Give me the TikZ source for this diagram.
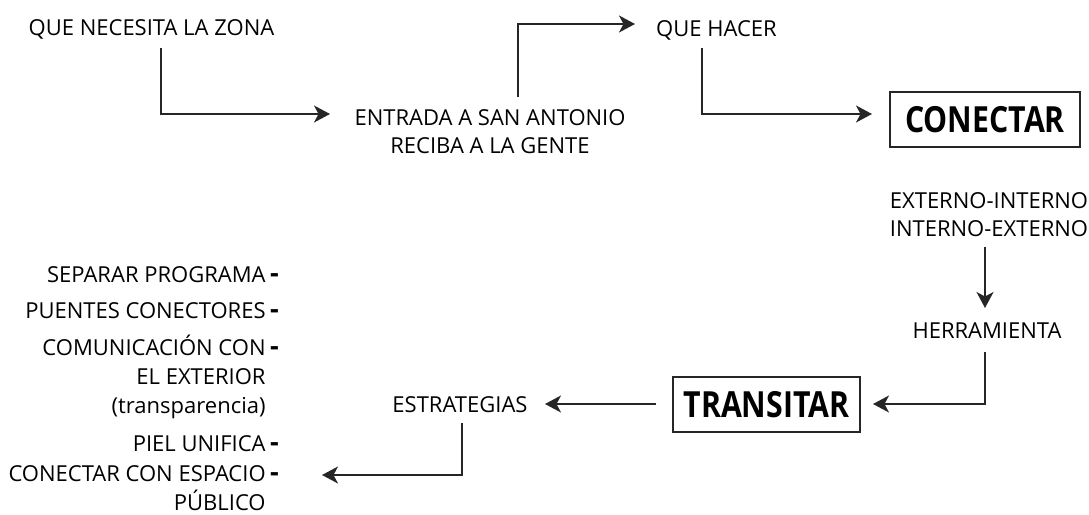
\documentclass[tikz,border=0pt]{standalone}
\usepackage{fontspec}
\setmainfont{Open Sans}
\newfontfamily\boxfont{Open Sans}[FakeStretch=0.84]
\usetikzlibrary{arrows.meta}
\newcommand\dsh{\hspace{4.5pt}{\bfseries\fontsize{27}{27}\selectfont -}}
\newcommand\pdsh{\hphantom{\dsh}}
\begin{document}
\begin{tikzpicture}[x=1pt,y=-1pt,
  lbl/.style={inner sep=0pt, font=\fontsize{22}{28}\selectfont, text=black},
  boxn/.style={draw=black!85, line width=1.3pt, minimum height=55pt, inner sep=0pt,
    text height=26pt, text depth=0pt, font=\boxfont\bfseries\fontsize{36}{36}\selectfont},
  arr/.style={draw=black!85, line width=1.7pt, -{Stealth[length=16pt,width=17pt,inset=4.5pt]}}]
\useasboundingbox (0,0) rectangle (1089,514);

% main chain
\node[lbl,anchor=base] (zona) at (151.5,35) {QUE NECESITA LA ZONA};
\node[lbl,anchor=base,align=center] (ent) at (490,153) {ENTRADA A SAN ANTONIO\\RECIBA A LA GENTE};
\node[lbl,anchor=base] (hacer) at (716.5,36) {QUE HACER};
\node[boxn,minimum width=190pt] (con) at (985,119.5) {CONECTAR};
\node[lbl,anchor=base,align=center] (ext) at (989,236) {EXTERNO-INTERNO\\INTERNO-EXTERNO};
\node[lbl,anchor=base] (herr) at (987,338) {HERRAMIENTA};
\node[boxn,minimum width=187pt] (tra) at (766.5,404.5) {TRANSITAR};
\node[lbl,anchor=base] (estr) at (460,412) {ESTRATEGIAS};

% strategy list
\node[lbl,anchor=base east] (l1) at (279,282) {SEPARAR PROGRAMA\dsh};
\node[lbl,anchor=base east] (l2) at (279,318) {PUENTES CONECTORES\dsh};
\node[lbl,anchor=base east,align=right,font=\fontsize{22}{29}\selectfont] (l3) at (279,413) {COMUNICACIÓN CON\dsh\\EL EXTERIOR\pdsh\\(transparencia)\pdsh};
\node[lbl,anchor=base east] (l4) at (279,451) {PIEL UNIFICA\dsh};
\node[lbl,anchor=base east,align=right,font=\fontsize{22}{29}\selectfont] (l5) at (279,510) {CONECTAR CON ESPACIO\dsh\\PÚBLICO\pdsh};

% connector ends
\coordinate (s1) at (161,48);  \coordinate (e1) at (330,114);
\coordinate (s2) at (518,97);  \coordinate (e2) at (635,24);
\coordinate (s3) at (702,48);  \coordinate (e3) at (872,114);
\coordinate (s4) at (985,247); \coordinate (e4) at (985,308);
\coordinate (s5) at (985,352); \coordinate (e5) at (873,404);
\coordinate (s6) at (656,404); \coordinate (e6) at (545,404);
\coordinate (s7) at (462,423); \coordinate (e7) at (322,475);

\draw[arr] (s1) |- (e1);
\draw[arr] (s2) |- (e2);
\draw[arr] (s3) |- (e3);
\draw[arr] (s4) -- (e4);
\draw[arr] (s5) |- (e5);
\draw[arr] (s6) -- (e6);
\draw[arr] (s7) |- (e7);
\end{tikzpicture}
\end{document}
